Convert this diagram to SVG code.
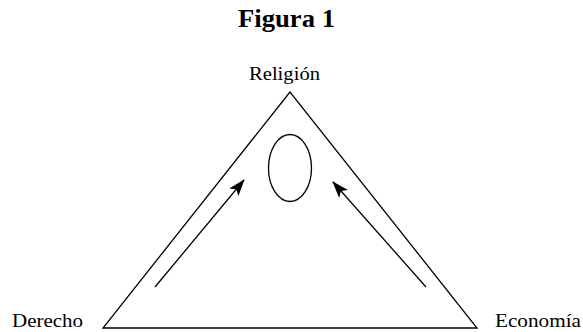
<svg xmlns="http://www.w3.org/2000/svg" width="583" height="332" viewBox="0 0 583 332">
<style>
text{font-family:"Liberation Serif","Times New Roman",serif;fill:#000}
.ln{stroke:#000;stroke-width:1.3;fill:none}
</style>
<defs>
<marker id="ah" viewBox="0 0 17 12" refX="16" refY="6" markerWidth="17" markerHeight="12" markerUnits="userSpaceOnUse" orient="auto">
<path d="M0,0 L17,6 L0,12 L4,6 z" fill="#000"/>
</marker>
</defs>
<rect width="583" height="332" fill="#fff"/>
<text x="286.5" y="27" font-size="25" font-weight="bold" text-anchor="middle" textLength="97" lengthAdjust="spacingAndGlyphs">Figura 1</text>
<g id="triangle">
<path class="ln" d="M290,92 L103,328 L477,328 Z"/>
</g>
<g id="religion">
<text x="284.5" y="80" font-size="19" text-anchor="middle" textLength="71" lengthAdjust="spacingAndGlyphs">Religión</text>
</g>
<g id="derecho">
<text x="12" y="327" font-size="19" textLength="71" lengthAdjust="spacingAndGlyphs">Derecho</text>
</g>
<g id="economia">
<text x="495" y="327" font-size="19" textLength="86" lengthAdjust="spacingAndGlyphs">Economía</text>
</g>
<g id="center">
<ellipse class="ln" cx="290" cy="168" rx="21.5" ry="33.5"/>
</g>
<g id="connectors">
<line class="ln" x1="155" y1="287" x2="244" y2="180" marker-end="url(#ah)"/>
<line class="ln" x1="426" y1="287" x2="333" y2="182" marker-end="url(#ah)"/>
</g>
</svg>
